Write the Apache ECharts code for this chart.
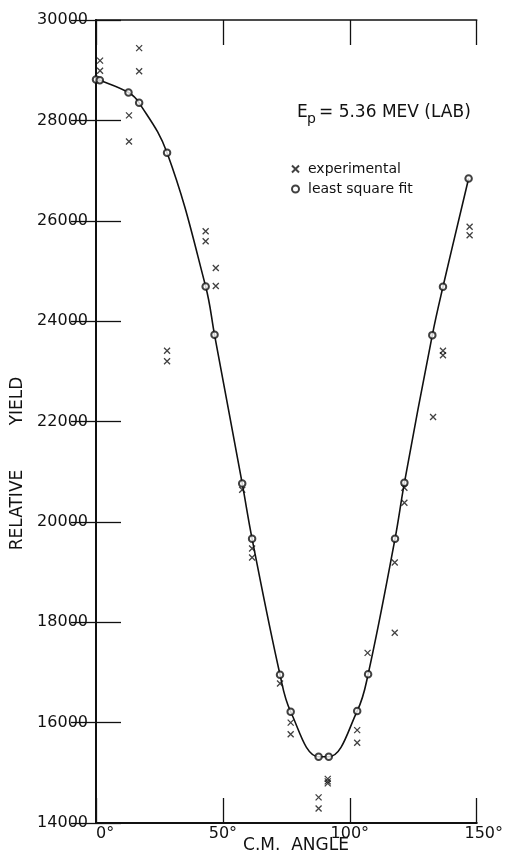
<!DOCTYPE html>
<html>
<head>
<meta charset="utf-8">
<script src="https://cdn.jsdelivr.net/npm/echarts@6/dist/echarts.min.js"></script>
<style>
  html, body { margin: 0; padding: 0; background: #fff; }
  #chart { width: 506px; height: 858px; }
</style>
</head>
<body>
<div id="chart"></div>
<script>
// Angular distribution, Ep = 5.36 MeV (lab)
// Experimental points: C.M. angle (deg) and relative yield
const expAngle = [1.6, 1.6, 13, 13, 17, 17, 28, 28, 43.2, 43.2, 47.2, 47.2,
  57.6, 61.5, 61.5, 72.5, 76.7, 76.7, 87.7, 87.7, 91.3, 91.3, 91.3,
  102.9, 102.9, 107, 117.7, 117.7, 121.5, 121.5, 132.8, 136.7, 136.7, 147.2, 147.2];
const expYield = [29190, 28990, 28100, 27580, 29440, 28980, 23410, 23200, 25790, 25590, 25060, 24700,
  20640, 19470, 19290, 16780, 16000, 15770, 14510, 14290, 14880, 14830, 14790,
  15850, 15600, 17390, 19190, 17790, 20680, 20380, 22090, 23410, 23320, 25880, 25710];

// Least-square fit evaluated at the measured angles
const fitAngle = [0, 1.5, 12.8, 17, 28, 43.2, 46.7, 57.6, 61.5, 72.5, 76.7, 87.7, 91.7,
  102.9, 107.2, 117.8, 121.5, 132.5, 136.7, 146.8];
const fitYield = [28815, 28800, 28556, 28349, 27353, 24691, 23727, 20767, 19663, 16954, 16217, 15321, 15321,
  16231, 16962, 19663, 20779, 23721, 24684, 26843];

// Axis ranges
const angleTicks = [0, 50, 100, 150];
const yieldMin = 14000, yieldMax = 30000, yieldStep = 2000;

const INK = '#111';
const FONT = 'DejaVu Sans';

const pairs = (xs, ys) => xs.map((x, i) => [x, ys[i]]);

const chart = echarts.init(document.getElementById('chart'), null, { renderer: 'canvas' });

const tickStyle = { show: true, inside: true, length: 25, lineStyle: { color: INK, width: 1.3 } };
const frameLine = (w) => ({ show: true, lineStyle: { color: INK, width: w } });

chart.setOption({
  animation: false,
  backgroundColor: '#fff',
  grid: { left: 96, right: 25, top: 20, bottom: 35 },
  xAxis: [
    {
      type: 'value', position: 'bottom',
      min: angleTicks[0], max: angleTicks[angleTicks.length - 1], interval: 50,
      axisLine: frameLine(2), axisTick: tickStyle, splitLine: { show: false },
      axisLabel: {
        margin: 3, color: INK, fontFamily: FONT, fontSize: 16,
        alignMinLabel: 'left',
        formatter: (v) => v === 150 ? '{r|' + v + '°}' : v + '°',
        rich: { r: { fontFamily: FONT, fontSize: 16, color: INK, padding: [0, 0, 0, 14] } }
      }
    },
    {
      type: 'value', position: 'top',
      min: angleTicks[0], max: angleTicks[angleTicks.length - 1], interval: 50,
      axisLine: frameLine(1.6), axisTick: tickStyle, axisLabel: { show: false }, splitLine: { show: false }
    }
  ],
  yAxis: [
    {
      type: 'value', position: 'left',
      min: yieldMin, max: yieldMax, interval: yieldStep,
      axisLine: frameLine(2), axisTick: tickStyle, splitLine: { show: false },
      axisLabel: { margin: 8, color: INK, fontFamily: FONT, fontSize: 16, formatter: (v) => String(v) }
    },
    {
      type: 'value', position: 'right',
      min: yieldMin, max: yieldMax, interval: yieldStep,
      axisLine: frameLine(1.6), axisTick: tickStyle, axisLabel: { show: false }, splitLine: { show: false }
    }
  ],
  legend: {
    orient: 'vertical', left: 286, top: 157,
    itemWidth: 7, itemHeight: 7, itemGap: 6,
    data: ['experimental', 'least square fit'],
    textStyle: { color: INK, fontFamily: FONT, fontSize: 14, lineHeight: 14, padding: [0, 0, 0, 4] }
  },
  graphic: [
    // "RELATIVE   YIELD" axis title, drawn as two rotated words
    { type: 'text', x: 18, y: 510, rotation: Math.PI / 2,
      style: { text: 'RELATIVE', font: '17px "DejaVu Sans"', fill: INK, align: 'center', verticalAlign: 'middle' } },
    { type: 'text', x: 18, y: 401, rotation: Math.PI / 2,
      style: { text: 'YIELD', font: '17px "DejaVu Sans"', fill: INK, align: 'center', verticalAlign: 'middle' } },
    // x-axis title
    { type: 'text', x: 296, y: 846,
      style: { text: 'C.M.  ANGLE', font: '17px "DejaVu Sans"', fill: INK, align: 'center', verticalAlign: 'middle' } },
    // beam energy annotation
    { type: 'text', x: 297, y: 113,
      style: { text: 'E', font: '17px "DejaVu Sans"', fill: INK, align: 'left', verticalAlign: 'middle' } },
    { type: 'text', x: 307, y: 119,
      style: { text: 'p', font: '14px "DejaVu Sans"', fill: INK, align: 'left', verticalAlign: 'middle' } },
    { type: 'text', x: 319, y: 113,
      style: { text: '= 5.36 MEV (LAB)', font: '17px "DejaVu Sans"', fill: INK, align: 'left', verticalAlign: 'middle' } }
  ],
  series: [
    {
      name: 'fit curve', type: 'line', data: pairs(fitAngle, fitYield),
      smooth: 0.4, showSymbol: false, silent: true, z: 2,
      lineStyle: { color: INK, width: 1.6 }
    },
    {
      name: 'least square fit', type: 'scatter', data: pairs(fitAngle, fitYield),
      symbol: 'emptyCircle', symbolSize: 6.5, z: 4,
      itemStyle: { color: INK, borderColor: INK, borderWidth: 0.9 }
    },
    {
      name: 'experimental', type: 'scatter', data: pairs(expAngle, expYield),
      symbol: 'path://M0,0L10,10M10,0L0,10', symbolSize: [6, 6], z: 3,
      itemStyle: { color: 'rgba(0,0,0,0)', borderColor: INK, borderWidth: 1.3 }
    }
  ]
});
</script>
</body>
</html>
